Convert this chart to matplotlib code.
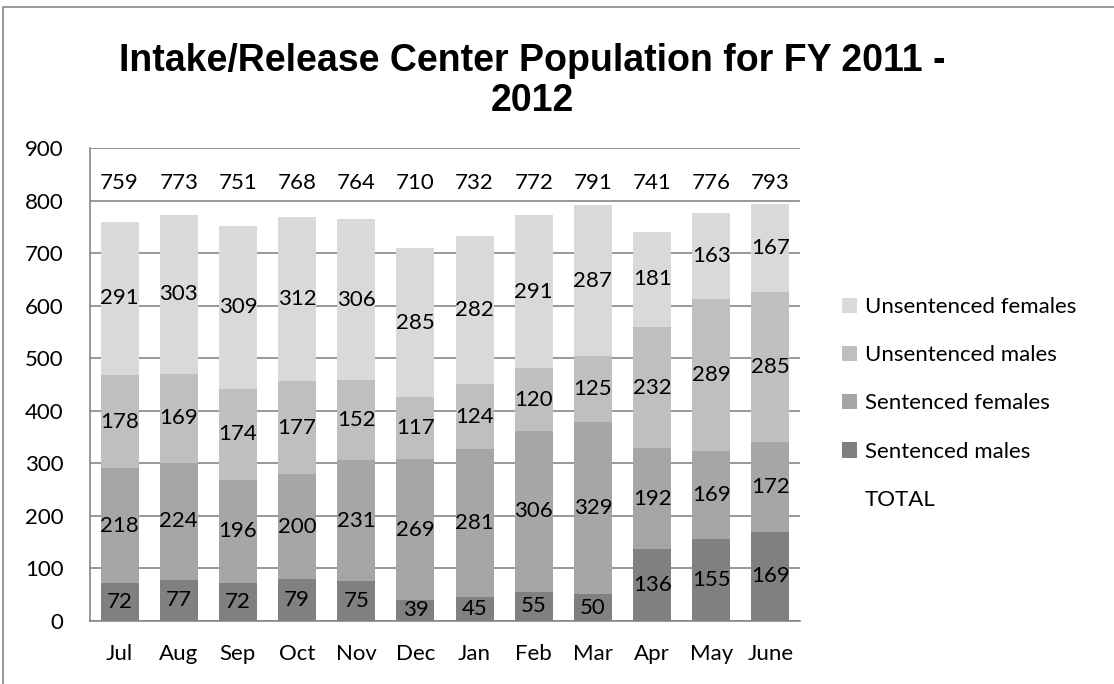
import numpy as np
import matplotlib
matplotlib.use('Agg')
import matplotlib.pyplot as plt
from matplotlib.patches import Rectangle, Patch
from matplotlib.lines import Line2D

months = ['Jul', 'Aug', 'Sep', 'Oct', 'Nov', 'Dec', 'Jan', 'Feb', 'Mar', 'Apr', 'May', 'June']
sent_males = [72, 77, 72, 79, 75, 39, 45, 55, 50, 136, 155, 169]
sent_females = [218, 224, 196, 200, 231, 269, 281, 306, 329, 192, 169, 172]
unsent_males = [178, 169, 174, 177, 152, 117, 124, 120, 125, 232, 289, 285]
unsent_females = [291, 303, 309, 312, 306, 285, 282, 291, 287, 181, 163, 167]
totals = [759, 773, 751, 768, 764, 710, 732, 772, 791, 741, 776, 793]

series = [
	('Sentenced males', sent_males, '#808080'),
	('Sentenced females', sent_females, '#a6a6a6'),
	('Unsentenced males', unsent_males, '#bfbfbf'),
	('Unsentenced females', unsent_females, '#d9d9d9'),
]

plt.rcParams['font.family'] = ['Lato', 'DejaVu Sans']
lab_size = 16

fig = plt.figure(figsize=(11.14, 6.84), dpi=100)
ax = fig.add_axes([90/1114, 1-620.7/684, 710/1114, (620.7-148)/684])

x = np.arange(len(months))
bottom = np.zeros(len(months))
handles = []
for name, vals, col in series:
	vals = np.array(vals)
	ax.bar(x, vals, width=0.64, bottom=bottom, color=col, edgecolor='none', zorder=2)
	for xi, b, v in zip(x, bottom, vals):
		ax.text(xi, b + v/2, str(v), ha='center', va='center', fontsize=lab_size, zorder=3)
	bottom = bottom + vals
	handles.append(Patch(facecolor=col, edgecolor='none', label=name))

# totals sit in a row just under the top gridline
for xi, t in zip(x, totals):
	ax.text(xi, 834, str(t), ha='center', va='center', fontsize=lab_size, zorder=3)

ax.set_xlim(-0.5, len(months)-0.5)
ax.set_ylim(0, 900)
ax.set_yticks(range(0, 901, 100))
ax.set_xticks(x)
ax.set_xticklabels(months)
ax.tick_params(axis='x', length=0, pad=17, labelsize=lab_size)
ax.tick_params(axis='y', length=0, pad=19, labelsize=lab_size)
ax.yaxis.grid(True, color='#868686', linewidth=1.2, zorder=0)
ax.set_axisbelow(True)
for s in ['top', 'right']:
	ax.spines[s].set_visible(False)
for s in ['left', 'bottom']:
	ax.spines[s].set_color('#868686')
	ax.spines[s].set_linewidth(1.2)

handles = handles[::-1] + [Line2D([], [], linestyle='none', marker=None, label='TOTAL')]
fig.legend(handles=handles, loc='upper left', bbox_to_anchor=(842/1114, 1-297/684),
	frameon=False, fontsize=lab_size, handlelength=0.68, handleheight=0.68,
	handletextpad=0.36, labelspacing=1.27, borderpad=0, borderaxespad=0)

fig.text(532/1114, 1-81/684, 'Intake/Release Center Population for FY 2011 -\n2012',
	ha='center', va='center', fontsize=27, fontweight='bold',
	family=['Liberation Sans'], linespacing=1.15)

fig.patches.append(Rectangle((3/1114, -0.1), 1.2, 1-7/684+0.1, transform=fig.transFigure,
	fill=False, edgecolor='#868686', linewidth=1.2))

fig.savefig('out.png', dpi=100)
